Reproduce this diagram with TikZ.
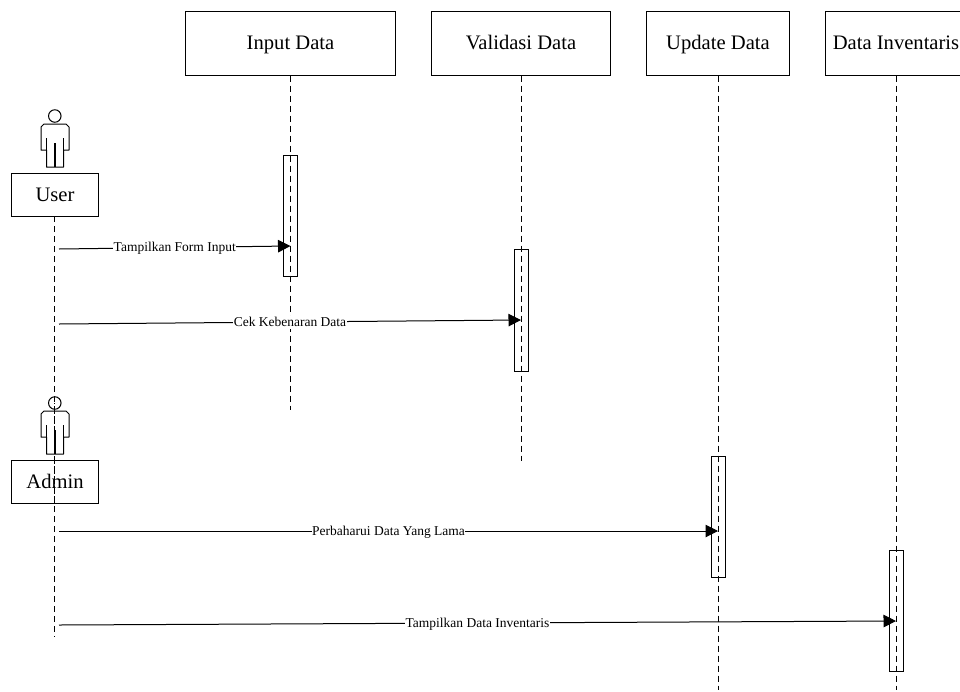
\documentclass[tikz,border=0pt]{standalone}
\usepackage{fontspec}
\setmainfont{Liberation Serif}
\usetikzlibrary{arrows.meta}
\tikzset{
  x=1pt,y=-1pt,
  headbox/.style={draw=black,line width=1pt,minimum height=63.5pt,inner sep=0pt,text height=17.5pt,text depth=4.5pt,font=\fontsize{20.6}{22}\selectfont},
  actorbox/.style={draw=black,line width=1pt,minimum width=87pt,minimum height=43pt,inner sep=0pt,text height=17.5pt,text depth=4.5pt,font=\fontsize{20.6}{22}\selectfont},
  life/.style={draw=black,line width=1pt,dash pattern=on 6pt off 4pt},
  activation/.style={draw=black,line width=1pt,minimum width=14.5pt,inner sep=0pt},
  msg/.style={draw=black,line width=1pt,-{Triangle[length=12.5pt,width=12.5pt]}},
  msglabel/.style={fill=white,inner xsep=0.3pt,inner ysep=0pt,text height=10.5pt,text depth=2.5pt,font=\fontsize{13.5}{15}\selectfont},
  figure/.style={draw=black,line width=1pt,line join=round},
  headcircle/.style={draw=black,circle,line width=1pt,minimum size=12.5pt,inner sep=0pt},
}
\newcommand{\actorfigure}{%
  \draw[figure] (46.5,167) -- (46.5,150) -- (41,150) -- (41,127) -- (44,124) -- (66,124) -- (69,127) -- (69,150) -- (63.5,150) -- (63.5,167) -- cycle;
  \draw[figure] (46.5,138) -- (46.5,150) (63.5,138) -- (63.5,150);
  \draw[figure,line width=1.6pt] (54.8,143) -- (54.8,167);
}
\begin{document}
\begin{tikzpicture}
\useasboundingbox (0,0) rectangle (960,691);
% header boxes
\node[headbox,minimum width=209.5pt] (input) at (290.5,43.25) {Input Data};
\node[headbox,minimum width=179pt] (valid) at (521,43.25) {Validasi Data};
\node[headbox,minimum width=142.5pt] (update) at (718,43.25) {Update Data};
\node[headbox,minimum width=142pt] (inv) at (896,43.25) {Data Inventaris};
% lifeline ends
\coordinate (inputend) at (290.5,410);
\coordinate (validend) at (521,461);
\coordinate (updateend) at (718,690);
\coordinate (invend) at (896,690);
\coordinate (userend) at (54.5,637);
% actors
\node[headcircle] (userhead) at (54.8,116) {};
\actorfigure
\begin{scope}[yshift=-287pt]
\node[headcircle] (adminhead) at (54.8,116) {};
\actorfigure
\end{scope}
\node[actorbox] (user) at (55,194.5) {User};
\node[actorbox] (admin) at (55,481.5) {Admin};
% lifelines
\draw[life] (input.south) -- (inputend);
\draw[life] (valid.south) -- (validend);
\draw[life] (update.south) -- (updateend);
\draw[life] (inv.south) -- (invend);
\draw[life] (54.5,216) -- (userend);
\draw[life,dash phase=5pt] (54.5,403) -- (54.5,503);
% activations
\node[activation,minimum height=121pt] (a1) at (290.5,215.5) {};
\node[activation,minimum height=122pt] (a2) at (521.5,310) {};
\node[activation,minimum height=121.5pt] (a3) at (718.3,516.8) {};
\node[activation,minimum height=121.5pt] (a4) at (896.5,610.8) {};
% message end points
\coordinate (m1s) at (59,249);
\coordinate (m1e) at (290.5,246);
\coordinate (m2s) at (59,324);
\coordinate (m2e) at (521,320);
\coordinate (m3s) at (59,531);
\coordinate (m3e) at (718,531);
\coordinate (m4s) at (59,625);
\coordinate (m4e) at (896,621);
\draw[msg] (m1s) -- node[msglabel,pos=0.5]{Tampilkan Form Input} (m1e);
\draw[msg] (m2s) -- node[msglabel,pos=0.5]{Cek Kebenaran Data} (m2e);
\draw[msg] (m3s) -- node[msglabel,pos=0.5]{Perbaharui Data Yang Lama} (m3e);
\draw[msg] (m4s) -- node[msglabel,pos=0.5]{Tampilkan Data Inventaris} (m4e);
\end{tikzpicture}
\end{document}
